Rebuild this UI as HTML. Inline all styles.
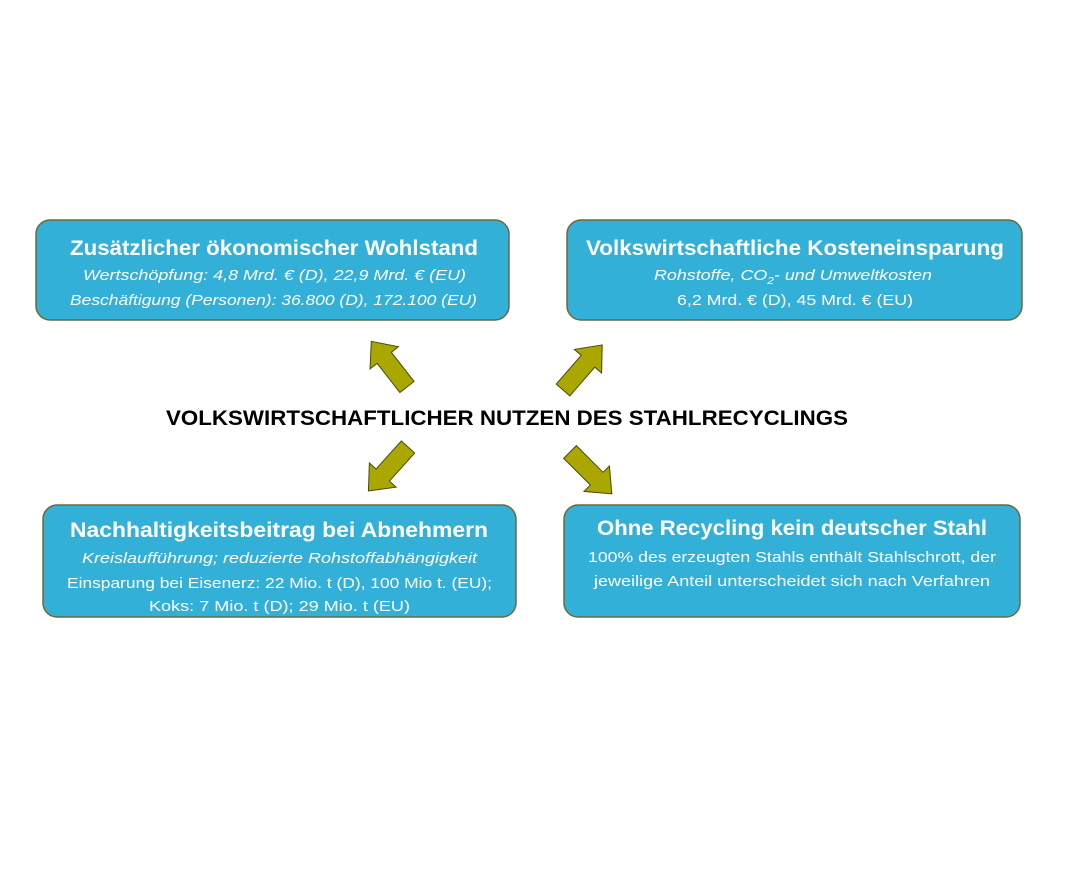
<!DOCTYPE html>
<html><head><meta charset="utf-8"><style>
html,body{margin:0;padding:0;background:#fff;}
svg{display:block;}
text{font-family:"Liberation Sans",sans-serif;fill:#fff;}
</style></head><body>
<svg width="1086" height="880" viewBox="0 0 1086 880">
<defs>
<polygon id="ar" points="0,-9 37,-9 37,-18 58,0 37,18 37,9 0,9"/>
</defs>
<g fill="#33b0d8" stroke="#6b6a3a" stroke-width="1.5">
<rect x="36" y="220" width="473" height="100" rx="14"/>
<rect x="567" y="220" width="455" height="100" rx="14"/>
<rect x="43" y="505" width="473" height="112" rx="14"/>
<rect x="564" y="505" width="456" height="112" rx="14"/>
</g>
<g fill="#a9a700" stroke="#4a4a10" stroke-width="1">
<use href="#ar" transform="translate(407,387) rotate(-128) scale(1,1)"/>
<use href="#ar" transform="translate(563,390) rotate(-49) scale(1.03,1)"/>
<use href="#ar" transform="translate(408,447) rotate(132) scale(1.02,1)"/>
<use href="#ar" transform="translate(570,452) rotate(45) scale(1.02,1)"/>
</g>
<text x="166" y="425" font-size="21" font-weight="bold" style="fill:#000" textLength="682" lengthAdjust="spacingAndGlyphs">VOLKSWIRTSCHAFTLICHER NUTZEN DES STAHLRECYCLINGS</text>

<text x="70" y="255" font-size="21" font-weight="bold" textLength="408" lengthAdjust="spacingAndGlyphs">Zusätzlicher ökonomischer Wohlstand</text>
<text x="83" y="280" font-size="15" font-style="italic" textLength="383" lengthAdjust="spacingAndGlyphs">Wertschöpfung: 4,8 Mrd. € (D), 22,9 Mrd. € (EU)</text>
<text x="70" y="305" font-size="15" font-style="italic" textLength="407" lengthAdjust="spacingAndGlyphs">Beschäftigung (Personen): 36.800 (D), 172.100 (EU)</text>

<text x="586" y="255" font-size="21" font-weight="bold" textLength="418" lengthAdjust="spacingAndGlyphs">Volkswirtschaftliche Kosteneinsparung</text>
<text x="654" y="280" font-size="15" font-style="italic" textLength="278" lengthAdjust="spacingAndGlyphs">Rohstoffe, CO<tspan font-size="10" dy="4">2</tspan><tspan dy="-4">- und Umweltkosten</tspan></text>
<text x="677" y="305" font-size="15" textLength="236" lengthAdjust="spacingAndGlyphs">6,2 Mrd. € (D), 45 Mrd. € (EU)</text>

<text x="70" y="537" font-size="21" font-weight="bold" textLength="418" lengthAdjust="spacingAndGlyphs">Nachhaltigkeitsbeitrag bei Abnehmern</text>
<text x="82" y="563" font-size="15" font-style="italic" textLength="395" lengthAdjust="spacingAndGlyphs">Kreislaufführung; reduzierte Rohstoffabhängigkeit</text>
<text x="67" y="588" font-size="15" textLength="425" lengthAdjust="spacingAndGlyphs">Einsparung bei Eisenerz: 22 Mio. t (D), 100 Mio t. (EU);</text>
<text x="149" y="611" font-size="15" textLength="261" lengthAdjust="spacingAndGlyphs">Koks: 7 Mio. t (D); 29 Mio. t (EU)</text>

<text x="597" y="535" font-size="21" font-weight="bold" textLength="390" lengthAdjust="spacingAndGlyphs">Ohne Recycling kein deutscher Stahl</text>
<text x="588" y="562" font-size="15" textLength="408" lengthAdjust="spacingAndGlyphs">100% des erzeugten Stahls enthält Stahlschrott, der</text>
<text x="594" y="586" font-size="15" textLength="396" lengthAdjust="spacingAndGlyphs">jeweilige Anteil unterscheidet sich nach Verfahren</text>
</svg>
</body></html>
